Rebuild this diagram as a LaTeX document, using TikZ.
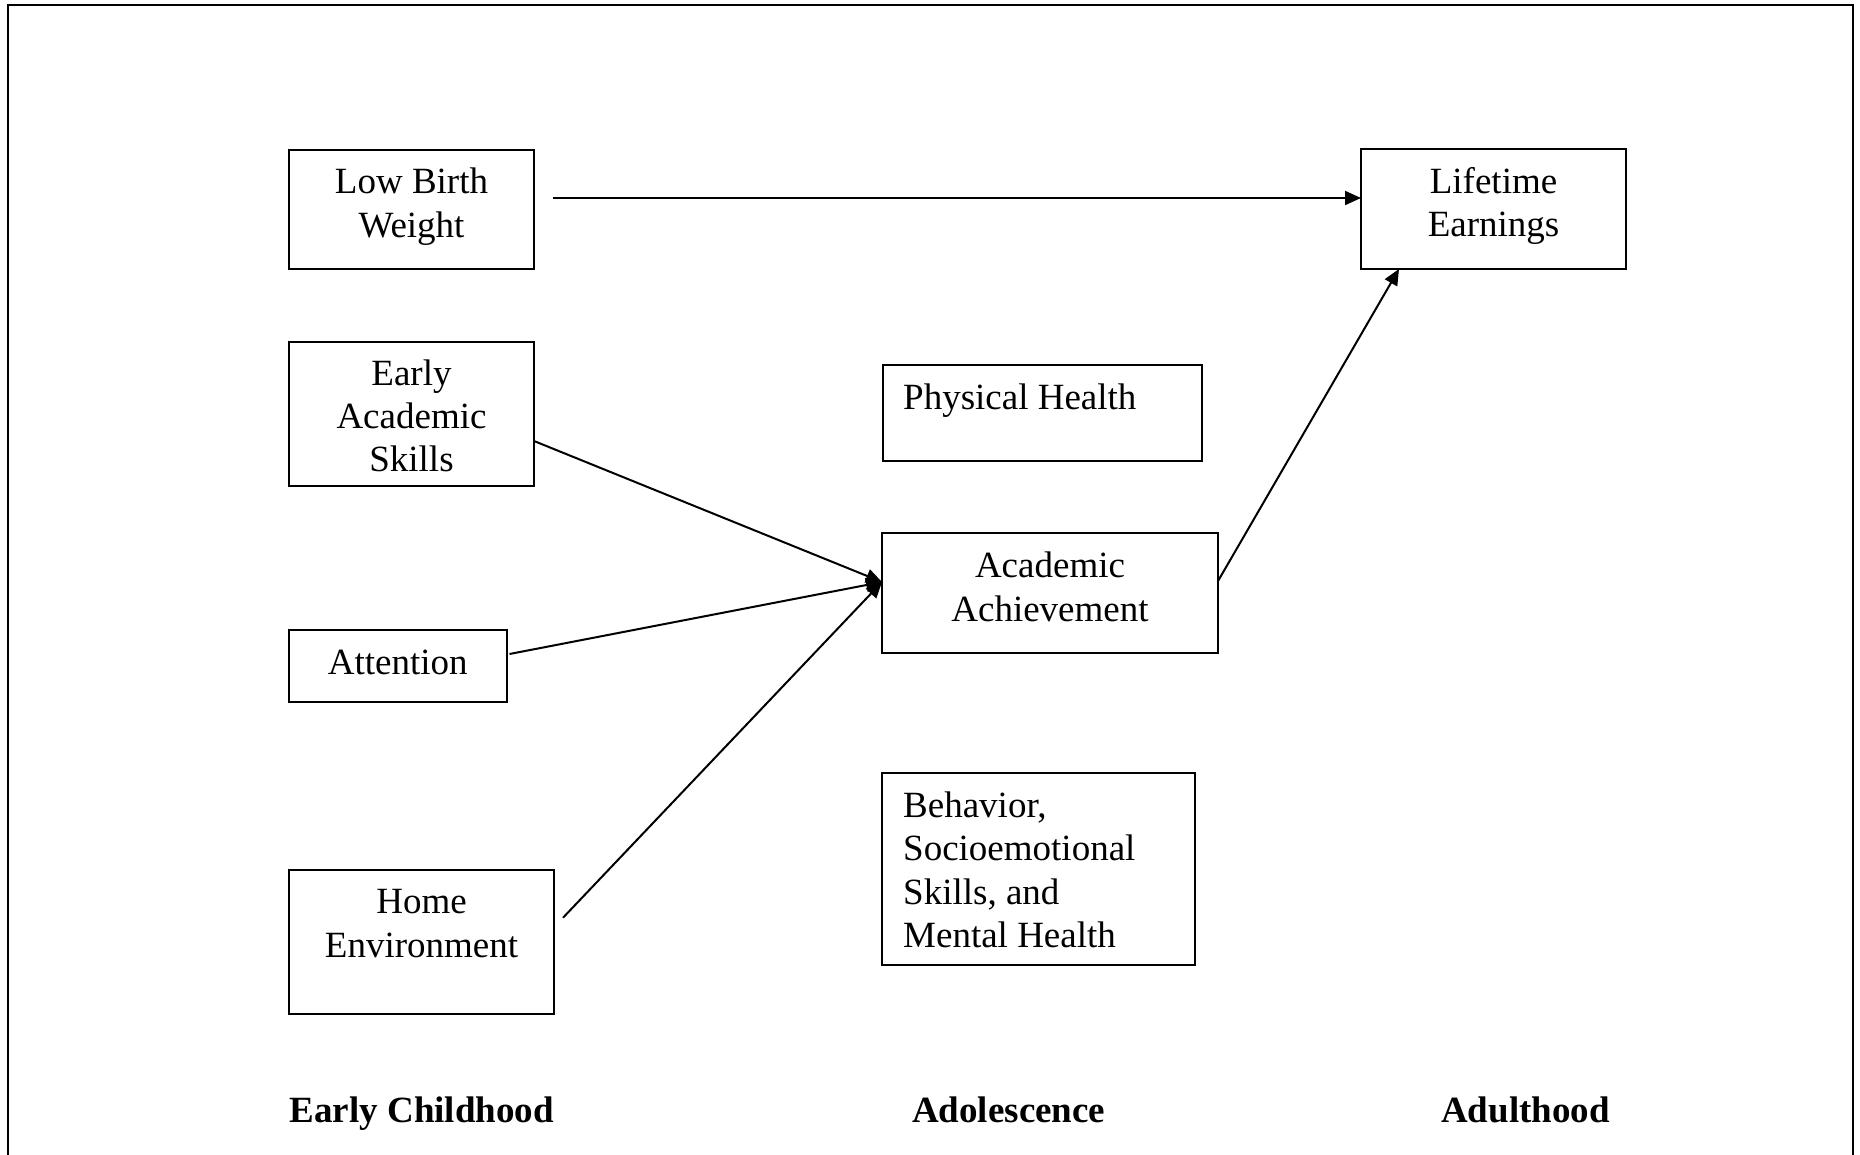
\documentclass[tikz,border=0pt]{standalone}
\usepackage{fontspec}
\setmainfont{Liberation Serif}
\usetikzlibrary{arrows.meta}
\begin{document}
\begin{tikzpicture}[x=1pt,y=-1pt,
  box/.style={draw, line width=2pt, inner sep=0pt, outer sep=0pt},
  txt/.style={inner sep=0pt, anchor=base, font=\fontsize{37}{44}\selectfont},
  ltxt/.style={txt, anchor=base west},
  period/.style={inner sep=0pt, anchor=base west, font=\fontsize{37}{44}\selectfont\bfseries},
  arr/.style={line width=2pt, -{Triangle[length=16pt,width=14pt]}}
]
\path[fill=white] (0,0) rectangle (1860,1155);
\useasboundingbox (0,0) rectangle (1860,1155);
% outer frame
\draw[line width=2pt] (8,1155) -- (8,5.5) -- (1853,5.5) -- (1853,1155);

% boxes
\node[box, minimum width=245pt, minimum height=119pt] (lbw) at (411.5,209.5) {};
\node[box, minimum width=265pt, minimum height=120pt] (le) at (1493.5,209) {};
\node[box, minimum width=245pt, minimum height=144pt] (eas) at (411.5,414) {};
\node[box, minimum width=319pt, minimum height=96pt] (ph) at (1042,413) {};
\node[box, minimum width=336pt, minimum height=120pt] (aa) at (1050,593) {};
\node[box, minimum width=217.5pt, minimum height=72pt] (att) at (397.75,666) {};
\node[box, minimum width=313pt, minimum height=192pt] (beh) at (1038.5,869) {};
\node[box, minimum width=265pt, minimum height=144.5pt] (home) at (421.5,941.75) {};

% texts
\node[txt] (lbw1) at (411.5,194) {Low Birth};
\node[txt] (lbw2) at (411.5,237.5) {Weight};
\node[txt] (le1) at (1493.5,193.5) {Lifetime};
\node[txt] (le2) at (1493.5,237) {Earnings};
\node[txt] (eas1) at (411.5,385.5) {Early};
\node[txt] (eas2) at (411.5,428.5) {Academic};
\node[txt] (eas3) at (411.5,471.5) {Skills};
\node[ltxt] (ph1) at (903,409) {Physical Health};
\node[txt] (aa1) at (1050,577) {Academic};
\node[txt] (aa2) at (1050,621) {Achievement};
\node[txt] (att1) at (397.75,674) {Attention};
\node[ltxt] (beh1) at (903,817) {Behavior,};
\node[ltxt] (beh2) at (903,860.5) {Socioemotional};
\node[ltxt] (beh3) at (903,904) {Skills, and};
\node[ltxt] (beh4) at (903,947) {Mental Health};
\node[txt] (home1) at (421.5,913.5) {Home};
\node[txt] (home2) at (421.5,957) {Environment};

% period labels
\node[period] (p1) at (289.5,1122) {Early Childhood};
\node[period] (p2) at (912,1122) {Adolescence};
\node[period] (p3) at (1441,1122) {Adulthood};

% connectors
\draw[arr] ([shift={(19,-11.5)}]lbw.east) -- ([shift={(0,-11)}]le.west);
\draw[arr] ([shift={(0,27)}]eas.east) -- ([shift={(0,-11)}]aa.west);
\draw[arr] ([shift={(3,-12)}]att.east) -- ([shift={(0,-11)}]aa.west);
\draw[arr] ([shift={(9,-24)}]home.east) -- ([shift={(0,-11)}]aa.west);
\draw[arr] ([shift={(0,-12)}]aa.east) -- ([xshift=38pt]le.south west);
\end{tikzpicture}
\end{document}
